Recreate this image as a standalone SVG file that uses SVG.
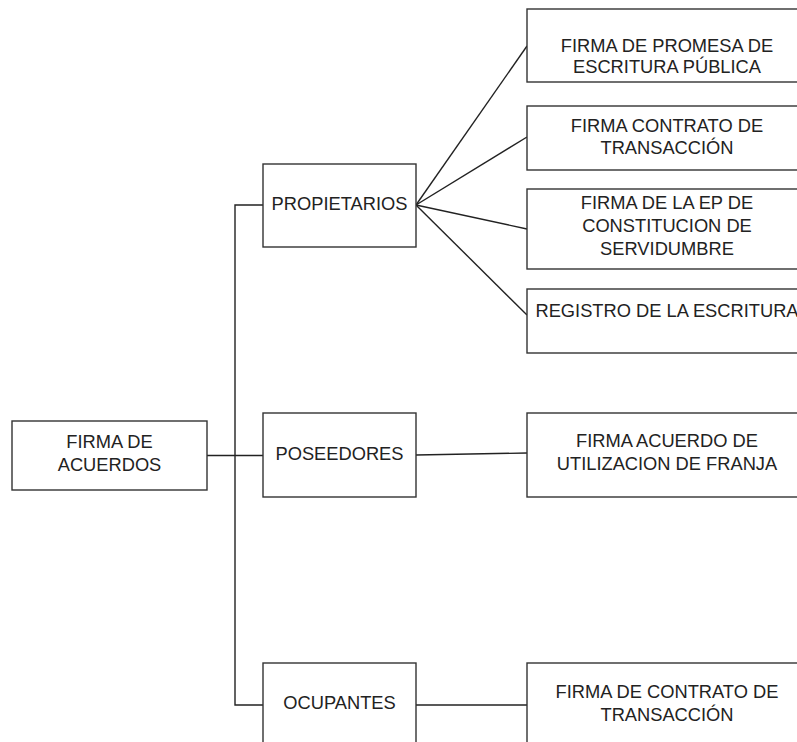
<svg xmlns="http://www.w3.org/2000/svg" width="797" height="742" viewBox="0 0 797 742">
<style>
.box{fill:#ffffff;stroke:#333333;stroke-width:1.4}
.lbl{font-family:"Liberation Sans",Arial,sans-serif;font-size:18.3px;fill:#222222;text-anchor:middle}
.edge{fill:none;stroke:#222222;stroke-width:1.4}
</style>
<rect width="797" height="742" fill="#ffffff"/>
<g id="connectors">
<line class="edge" x1="207" y1="455.5" x2="263" y2="455.5"/>
<polyline class="edge" points="263,205 235,205 235,705 263,705"/>
<line class="edge" x1="416" y1="205" x2="527" y2="46"/>
<line class="edge" x1="416" y1="205" x2="527" y2="137"/>
<line class="edge" x1="416" y1="205" x2="527" y2="229"/>
<line class="edge" x1="416" y1="205" x2="527" y2="315"/>
<line class="edge" x1="416" y1="455" x2="527" y2="453"/>
<line class="edge" x1="416" y1="705" x2="527" y2="705"/>
</g>
<g id="n-firma-acuerdos">
<rect class="box" x="12" y="421" width="195" height="69"/>
<text class="lbl" x="109.5" y="448">FIRMA DE</text>
<text class="lbl" x="109.5" y="471">ACUERDOS</text>
</g>
<g id="n-propietarios">
<rect class="box" x="263" y="164" width="153" height="83"/>
<text class="lbl" x="339.5" y="210">PROPIETARIOS</text>
</g>
<g id="n-poseedores">
<rect class="box" x="263" y="413" width="153" height="84"/>
<text class="lbl" x="339.5" y="460">POSEEDORES</text>
</g>
<g id="n-ocupantes">
<rect class="box" x="263" y="663" width="153" height="84"/>
<text class="lbl" x="339.5" y="709">OCUPANTES</text>
</g>
<g id="n-promesa">
<rect class="box" x="527" y="9" width="280" height="73"/>
<text class="lbl" x="667" y="52">FIRMA DE PROMESA DE</text>
<text class="lbl" x="667" y="73">ESCRITURA PÚBLICA</text>
</g>
<g id="n-contrato">
<rect class="box" x="527" y="106" width="280" height="64"/>
<text class="lbl" x="667" y="132">FIRMA CONTRATO DE</text>
<text class="lbl" x="667" y="154">TRANSACCIÓN</text>
</g>
<g id="n-servidumbre">
<rect class="box" x="527" y="189" width="280" height="80"/>
<text class="lbl" x="667" y="208.5">FIRMA DE LA EP DE</text>
<text class="lbl" x="667" y="231.5">CONSTITUCION DE</text>
<text class="lbl" x="667" y="255">SERVIDUMBRE</text>
</g>
<g id="n-registro">
<rect class="box" x="527" y="289" width="280" height="64"/>
<text class="lbl" x="667" y="317">REGISTRO DE LA ESCRITURA</text>
</g>
<g id="n-franja">
<rect class="box" x="527" y="413" width="280" height="84"/>
<text class="lbl" x="667" y="447">FIRMA ACUERDO DE</text>
<text class="lbl" x="667" y="470">UTILIZACION DE FRANJA</text>
</g>
<g id="n-transaccion-ocupantes">
<rect class="box" x="527" y="663" width="280" height="84"/>
<text class="lbl" x="667" y="698">FIRMA DE CONTRATO DE</text>
<text class="lbl" x="667" y="720.5">TRANSACCIÓN</text>
</g>
</svg>
